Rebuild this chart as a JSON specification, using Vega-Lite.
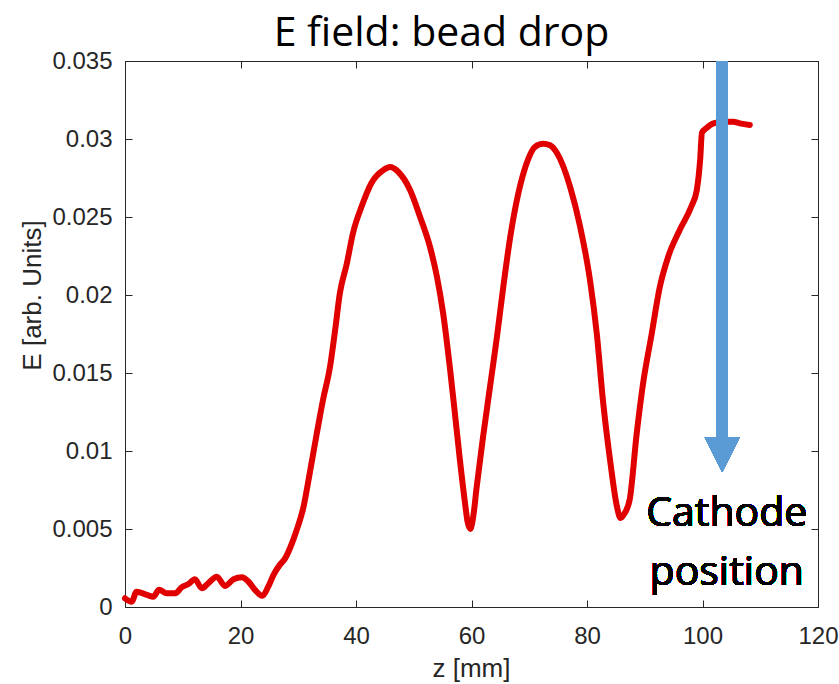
{
  "$schema": "https://vega.github.io/schema/vega-lite/v6.json",
  "width": 693,
  "height": 546,
  "autosize": {"type": "none"},
  "padding": {"left": 125, "top": 61, "right": 21, "bottom": 77},
  "background": "white",
  "title": {
    "text": "E field: bead drop",
    "font": "Open Sans",
    "fontSize": 41,
    "fontWeight": "normal",
    "color": "black",
    "anchor": "middle",
    "baseline": "alphabetic",
    "dx": -30,
    "dy": 52,
    "offset": 14
  },
  "config": {
    "view": {"stroke": null},
    "axis": {
      "grid": false,
      "domainColor": "#262626",
      "tickColor": "#262626",
      "domainWidth": 1,
      "tickWidth": 1,
      "labelColor": "#262626",
      "labelFont": "Liberation Sans",
      "labelFontSize": 24,
      "titleFont": "Liberation Sans",
      "titleFontSize": 26,
      "titleFontWeight": "normal",
      "titleColor": "#262626",
      "labelOverlap": false,
      "labelBound": false,
      "labelFlush": false
    }
  },
  "data": {
    "values": [
      {"z": 0, "E": 0.00056},
      {"z": 1.15, "E": 0.00034},
      {"z": 2.0, "E": 0.00098},
      {"z": 3.8, "E": 0.00077},
      {"z": 4.9, "E": 0.00066},
      {"z": 5.9, "E": 0.0011},
      {"z": 7.2, "E": 0.00088},
      {"z": 8.7, "E": 0.00088},
      {"z": 9.8, "E": 0.00126},
      {"z": 11.0, "E": 0.00147},
      {"z": 12.1, "E": 0.00178},
      {"z": 13.3, "E": 0.0012},
      {"z": 14.4, "E": 0.00152},
      {"z": 15.9, "E": 0.00194},
      {"z": 17.3, "E": 0.00135},
      {"z": 18.8, "E": 0.00178},
      {"z": 20.2, "E": 0.0019},
      {"z": 21.4, "E": 0.00162},
      {"z": 22.5, "E": 0.0011},
      {"z": 23.8, "E": 0.00072},
      {"z": 24.8, "E": 0.0013},
      {"z": 25.7, "E": 0.00205},
      {"z": 26.8, "E": 0.0027},
      {"z": 27.7, "E": 0.0031},
      {"z": 28.6, "E": 0.0038},
      {"z": 29.7, "E": 0.0049},
      {"z": 30.9, "E": 0.0064},
      {"z": 32.0, "E": 0.0086},
      {"z": 33.2, "E": 0.0111},
      {"z": 34.3, "E": 0.0133},
      {"z": 35.5, "E": 0.0154},
      {"z": 36.4, "E": 0.0178},
      {"z": 37.2, "E": 0.0201},
      {"z": 38.4, "E": 0.022},
      {"z": 39.5, "E": 0.024},
      {"z": 41.0, "E": 0.0257},
      {"z": 42.7, "E": 0.0272},
      {"z": 44.7, "E": 0.028},
      {"z": 45.9, "E": 0.0282},
      {"z": 47.3, "E": 0.0279},
      {"z": 49.4, "E": 0.0267},
      {"z": 51.1, "E": 0.025},
      {"z": 52.8, "E": 0.0231},
      {"z": 54.0, "E": 0.0212},
      {"z": 55.1, "E": 0.0188},
      {"z": 56.3, "E": 0.0152},
      {"z": 57.1, "E": 0.0125},
      {"z": 58.0, "E": 0.0094},
      {"z": 58.9, "E": 0.0066},
      {"z": 59.3, "E": 0.0055},
      {"z": 59.8, "E": 0.005},
      {"z": 60.3, "E": 0.0058},
      {"z": 60.9, "E": 0.0077},
      {"z": 62.0, "E": 0.0109},
      {"z": 63.2, "E": 0.0141},
      {"z": 64.4, "E": 0.0173},
      {"z": 65.5, "E": 0.0205},
      {"z": 66.7, "E": 0.0237},
      {"z": 68.1, "E": 0.0265},
      {"z": 69.8, "E": 0.0287},
      {"z": 71.0, "E": 0.0295},
      {"z": 72.4, "E": 0.0297},
      {"z": 73.6, "E": 0.0296},
      {"z": 74.8, "E": 0.0291},
      {"z": 77.1, "E": 0.0269},
      {"z": 78.8, "E": 0.0244},
      {"z": 80.5, "E": 0.021},
      {"z": 81.7, "E": 0.0175},
      {"z": 82.8, "E": 0.0131},
      {"z": 84.0, "E": 0.0094},
      {"z": 85.1, "E": 0.0066},
      {"z": 85.8, "E": 0.0057},
      {"z": 86.5, "E": 0.006},
      {"z": 87.4, "E": 0.0069},
      {"z": 88.6, "E": 0.0111},
      {"z": 89.7, "E": 0.0143},
      {"z": 91.2, "E": 0.0175},
      {"z": 92.6, "E": 0.0205},
      {"z": 94.1, "E": 0.0225},
      {"z": 96.1, "E": 0.0242},
      {"z": 98.1, "E": 0.0257},
      {"z": 99.0, "E": 0.0267},
      {"z": 99.6, "E": 0.0287},
      {"z": 99.9, "E": 0.0304},
      {"z": 100.7, "E": 0.0307},
      {"z": 101.9, "E": 0.031},
      {"z": 103.5, "E": 0.0311},
      {"z": 105.3, "E": 0.0311},
      {"z": 106.5, "E": 0.031},
      {"z": 108.2, "E": 0.0309}
    ]
  },
  "resolve": {"axis": {"x": "independent", "y": "independent"}},
  "layer": [
    {
      "mark": {"type": "line", "color": "#E00000", "strokeWidth": 6, "strokeJoin": "round", "strokeCap": "round", "interpolate": "monotone"},
      "encoding": {
        "x": {
          "field": "z", "type": "quantitative",
          "scale": {"domain": [0, 120], "nice": false, "zero": false},
          "axis": {
            "orient": "bottom", "title": "z [mm]",
            "values": [0, 20, 40, 60, 80, 100, 120], "format": "d",
            "tickSize": -7, "labelPadding": 24,
            "titleX": 346, "titleY": 61, "titleAlign": "center", "titleBaseline": "middle", "titleAnchor": null
          }
        },
        "y": {
          "field": "E", "type": "quantitative",
          "scale": {"domain": [0, 0.035], "nice": false, "zero": false},
          "axis": {
            "orient": "left", "title": "E [arb. Units]",
            "values": [0, 0.005, 0.01, 0.015, 0.02, 0.025, 0.03, 0.035], "format": "~g",
            "tickSize": -7, "labelPadding": 20,
            "titleX": -93, "titleY": 234, "titleAngle": 270, "titleAlign": "center", "titleBaseline": "middle", "titleAnchor": null
          }
        }
      }
    },
    {
      "mark": {"type": "line", "strokeOpacity": 0},
      "encoding": {
        "x": {
          "field": "z", "type": "quantitative",
          "scale": {"domain": [0, 120], "nice": false, "zero": false},
          "axis": {"orient": "top", "title": null, "labels": false, "values": [0, 20, 40, 60, 80, 100, 120], "tickSize": -7}
        },
        "y": {
          "field": "E", "type": "quantitative",
          "scale": {"domain": [0, 0.035], "nice": false, "zero": false},
          "axis": {"orient": "right", "title": null, "labels": false, "values": [0, 0.005, 0.01, 0.015, 0.02, 0.025, 0.03, 0.035], "tickSize": -7}
        }
      }
    },
    {
      "mark": {"type": "rule", "color": "#5B9BD5", "strokeWidth": 11, "strokeCap": "butt"},
      "encoding": {
        "x": {"datum": 103.4, "type": "quantitative", "axis": null},
        "y": {"datum": 0.035, "type": "quantitative", "axis": null},
        "y2": {"datum": 0.0105}
      }
    },
    {
      "mark": {"type": "point", "shape": "M-1,-1L1,-1L0,1Z", "size": 1225, "filled": true, "color": "#5B9BD5", "opacity": 1, "strokeWidth": 0},
      "encoding": {
        "x": {"datum": 103.4, "type": "quantitative", "axis": null},
        "y": {"datum": 0.00978, "type": "quantitative", "axis": null}
      }
    },
    {
      "mark": {"type": "text", "text": ["Cathode", "position"], "font": "Open Sans", "fontSize": 41, "lineHeight": 59, "align": "center", "baseline": "alphabetic", "color": "black"},
      "encoding": {
        "x": {"datum": 104.2, "type": "quantitative", "axis": null},
        "y": {"datum": 0.00519, "type": "quantitative", "axis": null}
      }
    }
  ]
}
